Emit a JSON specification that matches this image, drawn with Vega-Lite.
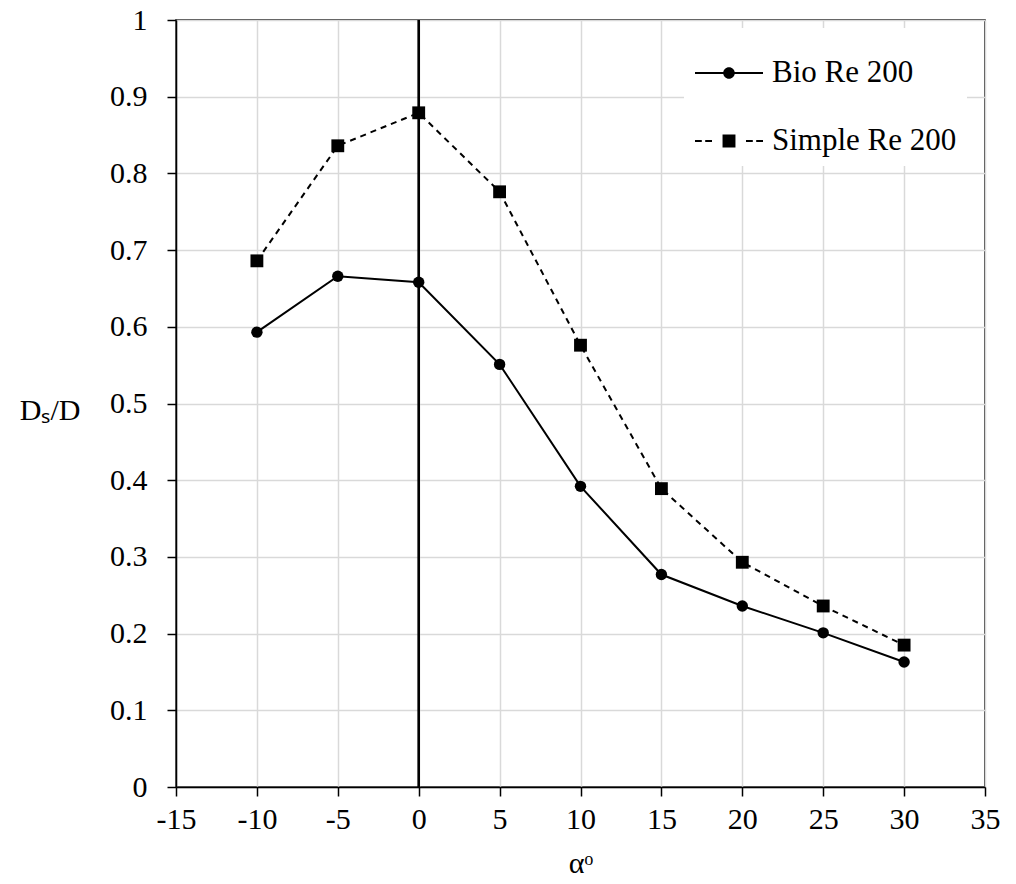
{
  "$schema": "https://vega.github.io/schema/vega-lite/v6.json",
  "width": 809,
  "height": 767,
  "autosize": "none",
  "padding": {"left": 176, "top": 20, "right": 31, "bottom": 97},
  "background": "white",
  "config": {
    "font": "Liberation Serif",
    "view": {"stroke": "black", "strokeWidth": 1.5},
    "axis": {
      "labelFont": "Liberation Serif",
      "titleFont": "Liberation Serif",
      "labelFontSize": 30,
      "titleFontSize": 30,
      "labelColor": "black",
      "titleColor": "black",
      "titleFontWeight": "normal",
      "domainColor": "black",
      "domainWidth": 1.5,
      "tickColor": "black",
      "tickWidth": 1.5,
      "tickSize": 9,
      "gridColor": "#d9d9d9",
      "gridWidth": 1.5
    }
  },
  "data": {
    "values": [
      {"alpha": -10, "ds": 0.593, "series": "Bio Re 200"},
      {"alpha": -5, "ds": 0.666, "series": "Bio Re 200"},
      {"alpha": 0, "ds": 0.658, "series": "Bio Re 200"},
      {"alpha": 5, "ds": 0.551, "series": "Bio Re 200"},
      {"alpha": 10, "ds": 0.392, "series": "Bio Re 200"},
      {"alpha": 15, "ds": 0.277, "series": "Bio Re 200"},
      {"alpha": 20, "ds": 0.236, "series": "Bio Re 200"},
      {"alpha": 25, "ds": 0.201, "series": "Bio Re 200"},
      {"alpha": 30, "ds": 0.163, "series": "Bio Re 200"},
      {"alpha": -10, "ds": 0.686, "series": "Simple Re 200"},
      {"alpha": -5, "ds": 0.836, "series": "Simple Re 200"},
      {"alpha": 0, "ds": 0.879, "series": "Simple Re 200"},
      {"alpha": 5, "ds": 0.776, "series": "Simple Re 200"},
      {"alpha": 10, "ds": 0.576, "series": "Simple Re 200"},
      {"alpha": 15, "ds": 0.389, "series": "Simple Re 200"},
      {"alpha": 20, "ds": 0.293, "series": "Simple Re 200"},
      {"alpha": 25, "ds": 0.236, "series": "Simple Re 200"},
      {"alpha": 30, "ds": 0.185, "series": "Simple Re 200"}
    ]
  },
  "encoding": {
    "x": {
      "field": "alpha",
      "type": "quantitative",
      "scale": {"domain": [-15, 35], "nice": false, "zero": false},
      "axis": {
        "values": [-15, -10, -5, 0, 5, 10, 15, 20, 25, 30, 35],
        "labelExpr": "'' + datum.value",
        "title": "αᵒ",
        "labelPadding": 8,
        "titlePadding": 14,
        "labelFlush": false
      }
    },
    "y": {
      "field": "ds",
      "type": "quantitative",
      "scale": {"domain": [0, 1], "nice": false},
      "axis": {
        "values": [0, 0.1, 0.2, 0.3, 0.4, 0.5, 0.6, 0.7, 0.8, 0.9, 1],
        "labelExpr": "datum.value === 0 ? '0' : datum.value === 1 ? '1' : format(datum.value, '.1f')",
        "title": "Dₛ/D",
        "titleAngle": 0,
        "titleAlign": "right",
        "titleBaseline": "middle",
        "titleX": -96,
        "titleY": 390,
        "labelPadding": 20,
        "labelFlush": false
      }
    }
  },
  "layer": [
    {
      "mark": {"type": "rule", "color": "black", "strokeWidth": 1.5},
      "encoding": {"x": {"datum": 0}, "y": {"value": 0}, "y2": {"value": 767}}
    },
    {
      "transform": [{"filter": "datum.series === 'Bio Re 200'"}],
      "mark": {"type": "line", "color": "black", "strokeWidth": 2},
      "encoding": {}
    },
    {
      "transform": [{"filter": "datum.series === 'Simple Re 200'"}],
      "mark": {"type": "line", "color": "black", "strokeWidth": 2, "strokeDash": [6, 5]},
      "encoding": {}
    },
    {
      "transform": [{"filter": "datum.series === 'Bio Re 200'"}],
      "mark": {"type": "point", "filled": true, "color": "black", "opacity": 1, "shape": "circle", "size": 130}
    },
    {
      "transform": [{"filter": "datum.series === 'Simple Re 200'"}],
      "mark": {"type": "point", "filled": true, "color": "black", "opacity": 1, "shape": "square", "size": 165}
    },
    {
      "mark": {"type": "point", "filled": true, "color": "black", "opacity": 0},
      "encoding": {
        "shape": {
          "field": "series",
          "type": "nominal",
          "scale": {
            "domain": ["Bio Re 200", "Simple Re 200"],
            "range": [
              "M-1,-0.03H1V0.03H-1Z M0.17,0A0.17,0.17,0,1,1,-0.17,0A0.17,0.17,0,1,1,0.17,0Z",
              "M-1,-0.03H-0.8V0.03H-1Z M-0.7,-0.03H-0.5V0.03H-0.7Z M0.5,-0.03H0.7V0.03H0.5Z M0.8,-0.03H1V0.03H0.8Z M-0.19,-0.19H0.19V0.19H-0.19Z"
            ]
          },
          "legend": {
            "title": null,
            "orient": "none",
            "legendX": 508,
            "legendY": 8,
            "fillColor": "white",
            "padding": 10,
            "labelFont": "Liberation Serif",
            "labelFontSize": 31,
            "labelColor": "black",
            "labelOffset": 8,
            "labelLimit": 400,
            "symbolSize": 4624,
            "rowPadding": 18,
            "symbolOpacity": 1,
            "symbolFillColor": "black"
          }
        }
      }
    }
  ]
}
